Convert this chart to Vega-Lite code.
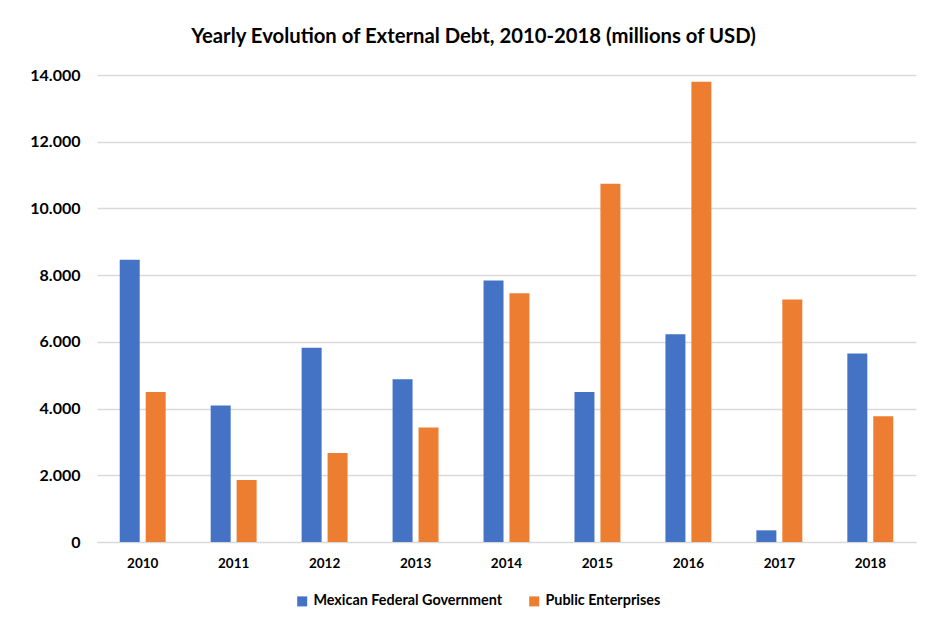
{
  "$schema": "https://vega.github.io/schema/vega-lite/v6.json",
  "width": 819,
  "height": 467,
  "padding": {"left": 17, "top": 26, "right": 18, "bottom": 10},
  "background": "white",
  "title": {
    "text": "Yearly Evolution of External Debt, 2010-2018 (millions of USD)",
    "font": "Lato",
    "fontSize": 20.3,
    "fontWeight": "bold",
    "color": "#000000",
    "anchor": "middle",
    "dx": -33,
    "offset": 20
  },
  "data": {
    "values": [
      {"year": "2010", "series": "Mexican Federal Government", "value": 8460},
      {"year": "2010", "series": "Public Enterprises", "value": 4500},
      {"year": "2011", "series": "Mexican Federal Government", "value": 4090},
      {"year": "2011", "series": "Public Enterprises", "value": 1860},
      {"year": "2012", "series": "Mexican Federal Government", "value": 5820},
      {"year": "2012", "series": "Public Enterprises", "value": 2670},
      {"year": "2013", "series": "Mexican Federal Government", "value": 4880},
      {"year": "2013", "series": "Public Enterprises", "value": 3430},
      {"year": "2014", "series": "Mexican Federal Government", "value": 7840},
      {"year": "2014", "series": "Public Enterprises", "value": 7460},
      {"year": "2015", "series": "Mexican Federal Government", "value": 4500},
      {"year": "2015", "series": "Public Enterprises", "value": 10740},
      {"year": "2016", "series": "Mexican Federal Government", "value": 6230},
      {"year": "2016", "series": "Public Enterprises", "value": 13800},
      {"year": "2017", "series": "Mexican Federal Government", "value": 350},
      {"year": "2017", "series": "Public Enterprises", "value": 7270},
      {"year": "2018", "series": "Mexican Federal Government", "value": 5650},
      {"year": "2018", "series": "Public Enterprises", "value": 3770}
    ]
  },
  "mark": {"type": "bar"},
  "encoding": {
    "x": {
      "field": "year",
      "type": "nominal",
      "scale": {"paddingInner": 0.495, "paddingOuter": 0.25},
      "axis": {
        "title": null,
        "labelAngle": 0,
        "labelFont": "Lato",
        "labelFontSize": 13.5,
        "labelFontWeight": "bold",
        "labelColor": "#000000",
        "labelPadding": 14,
        "ticks": false,
        "domainColor": "#d9d9d9",
        "minExtent": 40,
        "maxExtent": 40
      }
    },
    "xOffset": {
      "field": "series",
      "type": "nominal",
      "scale": {"paddingInner": 0.23, "paddingOuter": 0},
      "sort": ["Mexican Federal Government", "Public Enterprises"]
    },
    "y": {
      "field": "value",
      "type": "quantitative",
      "scale": {"domain": [0, 14000], "nice": false},
      "axis": {
        "title": null,
        "values": [0, 2000, 4000, 6000, 8000, 10000, 12000, 14000],
        "labelExpr": "replace(format(datum.value, ','), ',', '.')",
        "labelFont": "Lato",
        "labelFontSize": 16,
        "labelFontWeight": "bold",
        "labelColor": "#000000",
        "labelPadding": 17,
        "ticks": false,
        "domain": false,
        "gridColor": "#d9d9d9",
        "gridWidth": 1.3,
        "minExtent": 80,
        "maxExtent": 80
      }
    },
    "color": {
      "field": "series",
      "type": "nominal",
      "scale": {
        "domain": ["Mexican Federal Government", "Public Enterprises"],
        "range": ["#4472C4", "#ED7D31"]
      },
      "legend": {
        "title": null,
        "orient": "none",
        "direction": "horizontal",
        "legendX": 198,
        "legendY": 519,
        "symbolType": "square",
        "symbolSize": 100,
        "symbolStrokeWidth": 0,
        "labelFont": "Lato",
        "labelFontSize": 14.4,
        "labelFontWeight": "bold",
        "labelColor": "#000000",
        "labelLimit": 300,
        "labelOffset": 4,
        "columnPadding": 24,
        "symbolOffset": 0
      }
    }
  },
  "config": {
    "view": {"stroke": null}
  }
}
